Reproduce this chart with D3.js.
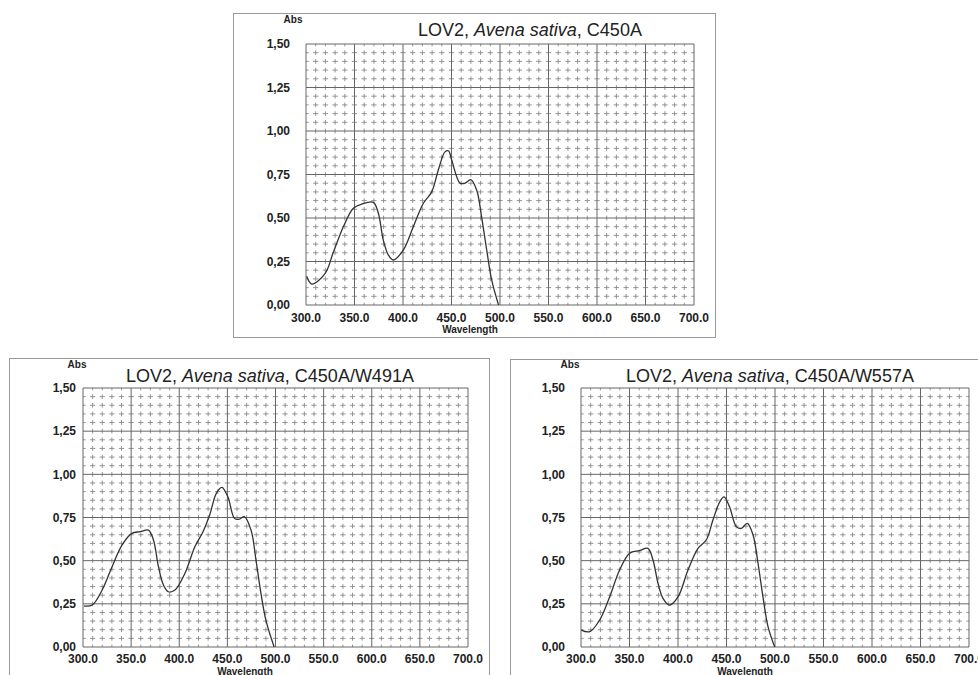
<!DOCTYPE html>
<html lang="en">
<head>
  <meta charset="UTF-8" />
  <title>LOV2 Avena sativa absorbance spectra</title>
  <script src="https://d3js.org/d3.v7.min.js"></script>
  <style>
    body { margin: 0; background: #fff; }
    svg { display: block; font-family: "Liberation Sans", Arial, sans-serif; }
    .tick-label { font-weight: bold; font-size: 12px; fill: #222; }
    .axis-name { font-weight: bold; font-size: 10px; fill: #222; }
    .title { font-size: 18px; fill: #222; }
  </style>
</head>
<body>
  <svg id="chart" width="978" height="675"></svg>

  <script>
    // tick values
    const xTicks = [300, 350, 400, 450, 500, 550, 600, 650, 700];
    const yTicks = [0, 0.25, 0.5, 0.75, 1.0, 1.25, 1.5];

    // C450A
    const wlC450A  = [300.7, 306, 319.6, 328, 338.5, 348.8, 357.4, 369.4, 374.6, 379.7, 384.9, 390, 400.3, 410.6, 421, 429.6, 436.4, 443.3, 447, 450.2, 458.8, 463.9, 469.8, 476, 481, 486.3, 491.4, 498.5];
    const absC450A = [0.165, 0.12, 0.18, 0.30, 0.45, 0.556, 0.58, 0.59, 0.527, 0.373, 0.287, 0.259, 0.316, 0.45, 0.585, 0.65, 0.776, 0.88, 0.885, 0.833, 0.70, 0.70, 0.72, 0.66, 0.507, 0.316, 0.144, 0.0];

    // C450A/W491A
    const wlW491A  = [301, 309.6, 319.9, 330.2, 340.5, 350.8, 359.5, 368, 373.2, 378.4, 383.5, 388.7, 395.5, 405.9, 416.2, 424.7, 431.6, 438.5, 444.3, 450.5, 457.4, 462.5, 467.5, 474.6, 479.7, 484.9, 490, 498.6];
    const absW491A = [0.237, 0.243, 0.33, 0.465, 0.59, 0.658, 0.668, 0.677, 0.62, 0.465, 0.36, 0.32, 0.33, 0.427, 0.58, 0.668, 0.764, 0.89, 0.925, 0.87, 0.745, 0.74, 0.755, 0.677, 0.504, 0.31, 0.156, 0.0];

    // C450A/W557A
    const wlW557A  = [300.3, 309, 319.2, 329.5, 339.8, 350.2, 360.5, 369, 374.2, 379.4, 384.5, 391.4, 400, 410.3, 420.6, 429.2, 436, 443, 447.4, 453.3, 460.1, 465.3, 471.4, 477.3, 482.5, 487.6, 492.8, 499.7];
    const absW557A = [0.098, 0.089, 0.156, 0.29, 0.446, 0.543, 0.558, 0.571, 0.504, 0.369, 0.282, 0.243, 0.29, 0.446, 0.571, 0.62, 0.735, 0.84, 0.87, 0.81, 0.697, 0.687, 0.716, 0.65, 0.485, 0.29, 0.118, 0.0];

    const panels = [
      { mutant: "C450A", wl: wlC450A, abs: absC450A,
        box: [233, 13, 482, 324], plot: [306, 44, 388, 261], yLabelGap: 16,
        titleX: 530, titleY: 36, absX: 293, absY: 23, wlNameX: 470, wlNameY: 333, xLabelDy: 17 },
      { mutant: "C450A/W491A", wl: wlW491A, abs: absW491A,
        box: [9, 358, 480, 340], plot: [83, 388, 385, 259], yLabelGap: 7,
        titleX: 270, titleY: 382, absX: 77, absY: 368, wlNameX: 245, wlNameY: 675, xLabelDy: 16 },
      { mutant: "C450A/W557A", wl: wlW557A, abs: absW557A,
        box: [510, 359, 500, 340], plot: [581, 388, 388, 259], yLabelGap: 16,
        titleX: 770, titleY: 382, absX: 570, absY: 368, wlNameX: 745, wlNameY: 675, xLabelDy: 16 }
    ];

    const svg = d3.select("#chart");
    const fmtY = d => d3.format(".2f")(d).replace(".", ",");
    const fmtX = d3.format(".1f");

    panels.forEach(p => {
      const [bx, by, bw, bh] = p.box;
      const [px, py, pw, ph] = p.plot;

      svg.append("rect")
        .attr("x", bx + 0.5).attr("y", by + 0.5)
        .attr("width", bw).attr("height", bh)
        .attr("fill", "#fff").attr("stroke", "#999").attr("stroke-width", 1);

      const x = d3.scaleLinear().domain([300, 700]).range([px, px + pw]);
      const y = d3.scaleLinear().domain([0, 1.5]).range([py + ph, py]);

      const g = svg.append("g");

      // minor grid (dashed)
      const minorX = d3.range(310, 700, 10).filter(v => v % 50 !== 0);
      const minorY = d3.range(1, 30).map(i => i * 0.05).filter((v, i) => (i + 1) % 5 !== 0);
      const stepX = x(310) - x(300);
      const stepY = y(0) - y(0.05);

      g.selectAll(".minor-h")
        .data(minorY)
        .join("line")
        .attr("x1", px).attr("x2", px + pw)
        .attr("y1", d => y(d)).attr("y2", d => y(d))
        .attr("stroke", "#8a8a8a").attr("stroke-width", 0.9)
        .attr("stroke-dasharray", `${stepX * 0.55},${stepX * 0.45}`)
        .attr("stroke-dashoffset", stepX * 0.275);

      g.selectAll(".minor-v")
        .data(minorX)
        .join("line")
        .attr("y1", py).attr("y2", py + ph)
        .attr("x1", d => x(d)).attr("x2", d => x(d))
        .attr("stroke", "#8a8a8a").attr("stroke-width", 0.9)
        .attr("stroke-dasharray", `${stepY * 0.55},${stepY * 0.45}`)
        .attr("stroke-dashoffset", stepY * 0.275);

      // major grid
      g.selectAll(".major-v")
        .data(xTicks)
        .join("line")
        .attr("x1", d => x(d)).attr("x2", d => x(d))
        .attr("y1", py).attr("y2", py + ph)
        .attr("stroke", "#666").attr("stroke-width", 1);

      g.selectAll(".major-h")
        .data(yTicks)
        .join("line")
        .attr("x1", px).attr("x2", px + pw)
        .attr("y1", d => y(d)).attr("y2", d => y(d))
        .attr("stroke", "#666").attr("stroke-width", 1);

      // tick labels
      g.selectAll(".ylab")
        .data(yTicks)
        .join("text")
        .attr("class", "tick-label")
        .attr("x", px - p.yLabelGap)
        .attr("y", d => y(d))
        .attr("dy", "0.35em")
        .attr("text-anchor", "end")
        .text(fmtY);

      g.selectAll(".xlab")
        .data(xTicks)
        .join("text")
        .attr("class", "tick-label")
        .attr("x", d => x(d))
        .attr("y", py + ph + p.xLabelDy)
        .attr("text-anchor", "middle")
        .text(fmtX);

      g.append("text")
        .attr("class", "axis-name")
        .attr("x", p.absX).attr("y", p.absY)
        .attr("text-anchor", "middle")
        .text("Abs");

      g.append("text")
        .attr("class", "axis-name")
        .attr("x", p.wlNameX).attr("y", p.wlNameY)
        .attr("text-anchor", "middle")
        .text("Wavelength");

      const t = g.append("text")
        .attr("class", "title")
        .attr("x", p.titleX).attr("y", p.titleY)
        .attr("text-anchor", "middle");
      t.append("tspan").text("LOV2, ");
      t.append("tspan").attr("font-style", "italic").text("Avena sativa");
      t.append("tspan").text(", " + p.mutant);

      // spectrum
      const pts = p.wl.map((w, i) => [w, p.abs[i]]);
      const line = d3.line()
        .x(d => x(d[0]))
        .y(d => y(d[1]))
        .curve(d3.curveCatmullRom.alpha(0.5));

      g.append("path")
        .datum(pts)
        .attr("d", line)
        .attr("fill", "none")
        .attr("stroke", "#333")
        .attr("stroke-width", 1.3);
    });
  </script>
</body>
</html>
